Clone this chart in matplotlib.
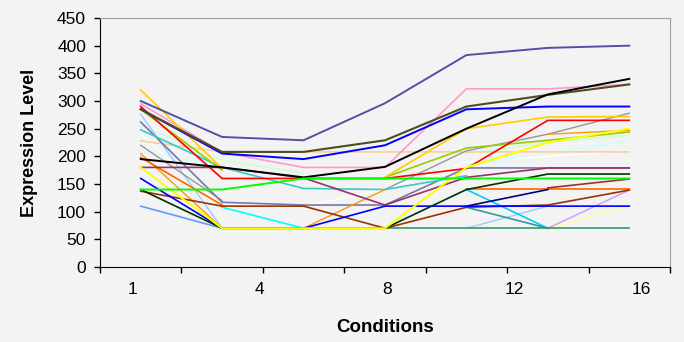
import numpy as np
import matplotlib
matplotlib.use("Agg")
import matplotlib.pyplot as plt

nan = np.nan

# expression level per condition step (7 time points), nan = missing value
conditions = ["1", "4", "8", "12", "16"]
n_points = 7

slate      = [300, 235, 229, 296, 383, 396, 400]
olive      = [285, 208, 208, 229, 290, 311, 330]
blue_hi    = [285, 205, 195, 220, 285, 290, 290]
pink       = [295, 207, 180, 180, 322, 322, 330]
black      = [195, 180, 162, 181, 250, 312, 340]
red        = [290, 160, 160, 160, 178, 265, 265]
lime       = [140, 140, 160, 160, 160, 160, 160]
yellow     = [180, 70, 70, 70, 180, 225, 250]
gold       = [320, 178, nan, 162, 250, 271, 272]
orange     = [205, 70, 70, 140, nan, 240, 247]
dk_orange  = [198, 112, nan, nan, 141, 141, 141]
turquoise  = [248, 180, 142, 140, 165, nan, nan]
lt_green   = [256, 193, 170, nan, 205, 225, 238]
purple_gry = [262, 117, 112, 112, 179, 179, 179]
gray       = [220, 120, nan, 140, 210, 240, 278]
plum       = [180, 180, 161, 112, 162, 179, 179]
peach      = [228, 208, 208, 208, 208, 208, 208]
lt_cyan    = [210, 180, nan, nan, 185, 205, 228]
white      = [240, 110, 110, 140, 190, 200, 210]
yel_green  = [285, 175, nan, 162, 215, 229, 244]
dark_red   = [nan, nan, nan, nan, nan, 143, 159]
navy       = [nan, nan, nan, nan, 110, 140, nan]
sea_green  = [nan, nan, nan, 70, 70, 70, 70]
teal       = [nan, nan, nan, nan, 108, 70, nan]
sky_blue   = [nan, nan, nan, nan, 140, 70, nan]
lt_blue    = [276, 70, nan, nan, 70, 110, nan]
lavender   = [nan, nan, nan, nan, nan, 70, 139]
lt_yellow  = [nan, nan, nan, nan, nan, 70, 110]
cyan       = [nan, 108, 70, nan, nan, nan, nan]
dk_green   = [140, 70, 70, 70, 140, 168, 168]
blue_lo    = [160, 70, 70, 110, 110, 110, 110]
periwinkle = [110, 70, nan, nan, nan, nan, nan]
brown      = [137, 110, 110, 70, 108, 112, 139]

series = [
    (white, "#ffffff", 1.0), (lt_cyan, "#ccffff", 1.0), (lt_green, "#ccffcc", 1.0),
    (lt_yellow, "#ffff99", 1.0), (lavender, "#cc99ff", 1.0), (peach, "#ffcc99", 1.2),
    (lt_blue, "#99ccff", 1.0), (periwinkle, "#6699ff", 1.2), (gray, "#969696", 1.0),
    (purple_gry, "#7777aa", 1.2), (turquoise, "#33cccc", 1.2), (pink, "#ff99cc", 1.2),
    (yel_green, "#99cc00", 1.2), (orange, "#ff9900", 1.0), (dk_orange, "#ff6600", 1.2),
    (gold, "#ffcc00", 1.2), (sky_blue, "#00ccff", 1.2), (cyan, "#00ffff", 1.2),
    (teal, "#339999", 1.2), (sea_green, "#339966", 1.2), (navy, "#000080", 1.2),
    (dark_red, "#993333", 1.2), (brown, "#993300", 1.2), (plum, "#993366", 1.2),
    (blue_lo, "#0000ff", 1.2), (dk_green, "#003300", 1.2), (red, "#ff0000", 1.2),
    (blue_hi, "#0000ff", 1.4), (olive, "#4d4d1f", 1.5), (black, "#000000", 1.4),
    (slate, "#5050a8", 1.4), (yellow, "#ffff00", 1.4), (lime, "#00ff00", 1.4),
]

bg = "#f3f3f3"
fig = plt.figure(figsize=(6.84, 3.42), dpi=100, facecolor=bg)
ax = fig.add_axes([100/684, 1 - 267/342, 570/684, 249/342], facecolor=bg)

x = np.arange(n_points)
for vals, col, lw in series:
    ax.plot(x, np.array(vals, dtype=float), color=col, lw=lw, solid_joinstyle="miter")

ax.set_xlim(-0.5, n_points - 0.5)
ax.set_ylim(0, 450)
ax.set_yticks(np.arange(0, 451, 50))
ax.set_xticks(np.arange(-0.5, n_points, 1.0))
ax.set_xticklabels([])
ax.set_xticks([-0.1, 1.46, 3.03, 4.59, 6.15], minor=True)
ax.set_xticklabels(conditions, minor=True)
ax.tick_params(axis="both", which="both", labelsize=12.5)
ax.tick_params(axis="x", which="minor", length=0, pad=11)
ax.tick_params(axis="both", which="major", direction="out", length=4, width=1, color="black")
ax.tick_params(axis="y", pad=6)
for lab in ax.get_xticklabels(minor=True) + ax.get_yticklabels():
    lab.set_fontfamily("Liberation Sans")

for s in ["left", "bottom"]:
    ax.spines[s].set_color("black")
for s in ["top", "right"]:
    ax.spines[s].set_color("#a0a0a0")

ax.set_ylabel("Expression Level", fontsize=13, fontweight="bold", family="Liberation Sans", va="center")
ax.yaxis.set_label_coords(-(100 - 30) / 570, 0.5)
ax.set_xlabel("Conditions", fontsize=13.5, fontweight="bold", family="Liberation Sans", va="center")
ax.xaxis.set_label_coords(0.5, -(327 - 267) / 249)

fig.savefig("out.png", dpi=100, facecolor=bg)
